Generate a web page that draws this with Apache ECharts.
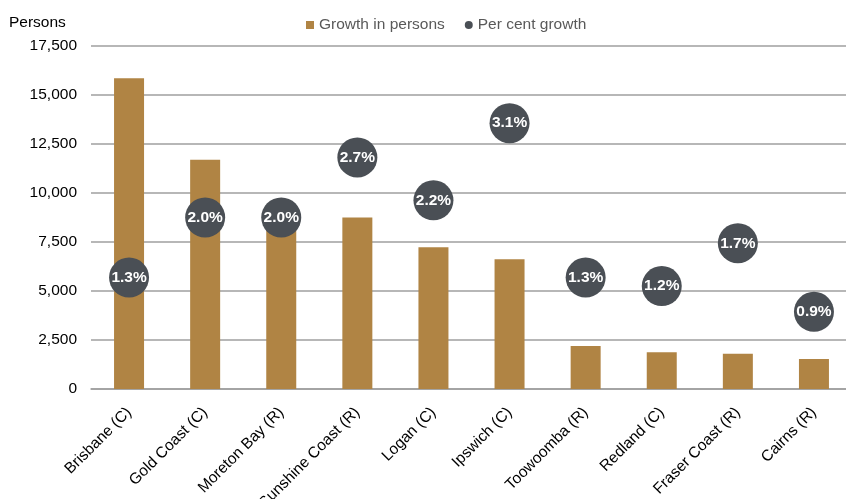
<!DOCTYPE html>
<html>
<head>
<meta charset="utf-8">
<script src="https://cdn.jsdelivr.net/npm/echarts@6/dist/echarts.min.js"></script>
<style>
  html, body { margin: 0; padding: 0; background: #fff; }
  #chart { width: 846px; height: 499px; }
</style>
</head>
<body>
<div id="chart"></div>
<script>
// Local government areas, largest growth in persons
const categories = [
  'Brisbane (C)', 'Gold Coast (C)', 'Moreton Bay (R)', 'Sunshine Coast (R)', 'Logan (C)',
  'Ipswich (C)', 'Toowoomba (R)', 'Redland (C)', 'Fraser Coast (R)', 'Cairns (R)'
];
const growthPersons = [15850, 11700, 8500, 8750, 7230, 6620, 2190, 1870, 1800, 1530];
const percentGrowth = [1.3, 2.0, 2.0, 2.7, 2.2, 3.1, 1.3, 1.2, 1.7, 0.9];
const yTicks = { min: 0, max: 17500, interval: 2500 };

const FONT = '"Liberation Sans", Arial, sans-serif';
const FS = 15.5;

const chart = echarts.init(document.getElementById('chart'), null, { renderer: 'canvas' });

chart.setOption({
  animation: false,
  backgroundColor: '#ffffff',
  textStyle: { fontFamily: FONT },
  title: {
    text: 'Persons',
    left: 9,
    top: 15,
    padding: 0,
    textStyle: { fontFamily: FONT, fontSize: FS, fontWeight: 'normal', color: '#000000' }
  },
  legend: {
    left: 301,
    top: 12,
    itemWidth: 8,
    itemHeight: 8,
    itemGap: 20,
    textStyle: { fontFamily: FONT, fontSize: FS, color: '#595959' },
    data: [
      { name: 'Growth in persons', icon: 'rect' },
      { name: 'Per cent growth', icon: 'circle' }
    ]
  },
  grid: {
    left: 91,
    top: 46,
    width: 761,
    height: 343,
    containLabel: false,
    outerBoundsMode: 'none'
  },
  xAxis: {
    type: 'category',
    data: categories,
    boundaryGap: true,
    axisTick: { show: false },
    axisLine: { show: true, lineStyle: { color: '#9f9f9f', width: 1.5 } },
    axisLabel: {
      interval: 0,
      rotate: 45,
      margin: 21,
      fontFamily: FONT,
      fontSize: FS,
      color: '#000000'
    }
  },
  yAxis: [
    {
      type: 'value',
      min: yTicks.min,
      max: yTicks.max,
      interval: yTicks.interval,
      axisLine: { show: false },
      axisTick: { show: false },
      axisLabel: {
        margin: 14,
        fontFamily: FONT,
        fontSize: FS,
        color: '#000000',
        formatter: v => v.toLocaleString('en-US')
      },
      splitLine: { show: true, lineStyle: { color: '#9f9f9f', width: 1.5 } }
    },
    {
      type: 'value',
      min: 0,
      max: 4,
      show: false,
      splitLine: { show: false }
    }
  ],
  series: [
    {
      name: 'Growth in persons',
      type: 'bar',
      data: growthPersons,
      barWidth: 30,
      itemStyle: { color: '#b08444' },
      z: 2
    },
    {
      name: 'Per cent growth',
      type: 'scatter',
      yAxisIndex: 1,
      data: percentGrowth,
      symbol: 'circle',
      symbolSize: 40,
      itemStyle: { color: '#4a4f55', opacity: 1 },
      label: {
        show: true,
        position: 'inside',
        fontFamily: FONT,
        fontSize: FS,
        fontWeight: 'bold',
        color: '#ffffff',
        formatter: p => p.value.toFixed(1) + '%'
      },
      z: 3
    }
  ]
});
</script>
</body>
</html>
